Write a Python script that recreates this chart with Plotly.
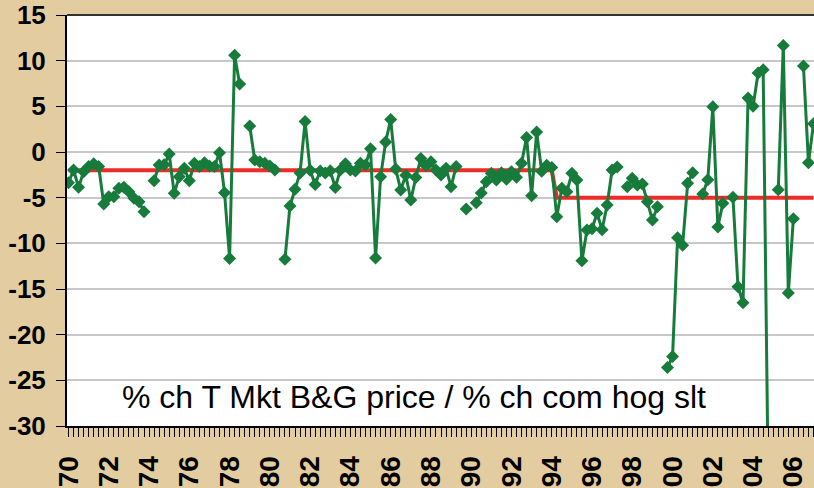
import plotly.graph_objects as go

# Quarterly series starting 1970Q1 (None = missing quarter)
start_year = 1970
ratio = [
    -3.36, -1.97, -3.87, -2.15, -1.6, -1.3, -1.6, -5.7,          # 70-71
    -4.9, -4.9, -3.98, -3.87, -4.35, -5.07, -5.44, -6.54,        # 72-73
    None, -3.14, -1.42, -1.4, -0.22, -4.53, -2.7, -1.79,         # 74-75
    -3.15, -1.24, -1.6, -1.17, -1.53, -1.6, -0.07, -4.45,        # 76-77
    -11.65, 10.6, 7.45, None, 2.85, -0.88, -1.06, -1.24,         # 78-79
    -1.53, -1.97, None, -11.75, -5.9, -4.09, -2.3, 3.35,         # 80-81
    -2.0, -3.55, -2.08, -2.3, -2.05, -3.9, -1.97, -1.3,          # 82-83
    -1.97, -2.08, -1.24, -1.42, 0.35, -11.6, -2.7, 1.1,          # 84-85
    3.55, -1.85, -4.16, -2.55, -5.26, -2.8, -0.7, -1.5,          # 86-87
    -1.06, -1.97, -2.52, -1.79, -3.8, -1.6, None, -6.25,         # 88-89
    None, -5.55, -4.5, -3.25, -2.34, -3.07, -2.27, -2.99,        # 90-91
    -2.15, -2.77, -1.24, 1.6, -4.8, 2.2, -2.1, -1.45,            # 92-93
    -1.7, -7.08, -3.98, -4.35, -2.34, -3.07, -11.9, -8.54,       # 94-95
    -8.4, -6.7, -8.5, -5.8, -1.97, -1.65, None, -3.8,            # 96-97
    -2.88, -3.6, -3.5, -5.44, -7.45, -5.99, None, -23.6,         # 98-99
    -22.4, -9.4, -10.2, -3.43, -2.27, None, -4.6, -3.03,         # 00-01
    4.95, -8.2, -5.6, None, -4.96, -14.75, -16.5, 5.9,           # 02-03
    5.0, 8.65, 9.0, -36.0, None, -4.12, 11.65, -15.45,           # 04-05
    -7.3, None, 9.42, -1.17, 3.1,                                # 06-07
]
quarter_index = list(range(len(ratio)))

# Mean levels (red line): breakpoints in quarter index
trend_x = [0, 96, 97, 148]
trend_y = [-2.0, -2.0, -5.0, -5.0]

tick_years = list(range(1970, 2007, 2))
tick_labels = [f"{y % 100:02d}" for y in tick_years]
tick_pos = [(y - start_year) * 4 for y in tick_years]

y_tick_vals = [15, 10, 5, 0, -5, -10, -15, -20, -25, -30]
y_tick_text = ["15", "10", "5", "0", "-5", "-10", "-15", "-20", "-25", "-30"]

label_text = "% ch T Mkt B&G price / % ch com hog slt"

GREEN = "#167B3B"
RED = "#EE2B26"
PAPER = "#E3CC9F"

fig = go.Figure()
fig.add_trace(go.Scatter(
    x=trend_x, y=trend_y, mode="lines",
    line=dict(color=RED, width=4), hoverinfo="skip", showlegend=False,
))
fig.add_trace(go.Scatter(
    x=quarter_index, y=ratio, mode="lines+markers",
    line=dict(color=GREEN, width=3),
    marker=dict(symbol="diamond", size=10, color=GREEN),
    connectgaps=False, showlegend=False,
))

NARROW = "Liberation Sans Narrow, Arial Narrow, Liberation Sans, sans-serif"
xtickfont = dict(family=NARROW, size=28, color="black", weight="bold")
ytickfont = dict(family=NARROW, size=26, color="black", weight="bold")

fig.update_layout(
    width=814, height=488,
    margin=dict(l=67, r=0, t=15, b=62),
    paper_bgcolor=PAPER,
    plot_bgcolor="white",
    xaxis=dict(
        range=[-0.3, 148.1],
        tickmode="array", tickvals=tick_pos, ticktext=tick_labels,
        tickangle=-90, tickfont=xtickfont,
        ticks="outside", ticklen=9, tickwidth=1, tickcolor="black",
        minor=dict(dtick=1, tick0=0, ticks="outside", ticklen=9, tickwidth=1, tickcolor="black", showgrid=False),
        showgrid=False, zeroline=False,
        showline=True, linecolor="black", linewidth=2,
        ticklabelstandoff=8, automargin=False,
    ),
    yaxis=dict(
        range=[-30, 15],
        tickmode="array", tickvals=y_tick_vals, ticktext=y_tick_text,
        tickfont=ytickfont,
        ticks="outside", ticklen=9, tickwidth=1, tickcolor="black",
        showgrid=True, gridcolor="#C8C8C8", gridwidth=1.5,
        zeroline=False,
        showline=True, linecolor="black", linewidth=2,
        ticklabelstandoff=5, automargin=False,
    ),
    shapes=[dict(type="line", xref="paper", yref="paper", x0=0, x1=1, y0=1, y1=1,
                 line=dict(color="#333333", width=2))],
    annotations=[dict(
        text=label_text, xref="paper", yref="paper", x=0.071, y=0.0706,
        xanchor="left", yanchor="middle", showarrow=False,
        font=dict(family="Liberation Sans, Arial, sans-serif", size=32, color="black"),
    )],
)

fig.write_html(
    "out.html",
    config={"displayModeBar": False},
    post_script="document.body.style.margin='0';document.body.style.background='%s';" % PAPER,
)
